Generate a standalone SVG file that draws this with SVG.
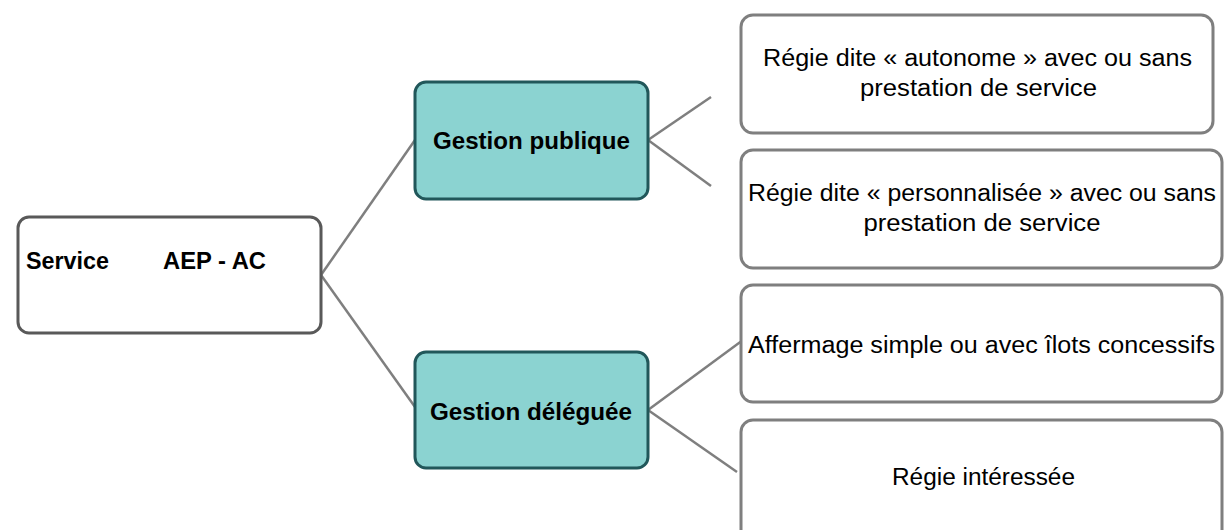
<svg xmlns="http://www.w3.org/2000/svg" width="1231" height="530" viewBox="0 0 1231 530">
<style>
.bg{fill:#ffffff}
.plain{fill:#ffffff;stroke:#7f7f7f;stroke-width:3}
.root{fill:#ffffff;stroke:#595959;stroke-width:3}
.teal{fill:#8bd3d1;stroke:#21575a;stroke-width:3}
.conn{stroke:#7f7f7f;stroke-width:2.5;fill:none}
text{font-family:"Liberation Sans",Arial,sans-serif;fill:#000000}
.b{font-weight:bold;font-size:23px}
.r{font-size:23.5px;text-anchor:middle}
.bm{font-weight:bold;font-size:23px;text-anchor:middle}
</style>
<rect class="bg" x="0" y="0" width="1231" height="530"/>
<g id="connectors">
<line class="conn" x1="321" y1="275" x2="415" y2="140"/>
<line class="conn" x1="321" y1="275" x2="415" y2="407"/>
<line class="conn" x1="648" y1="140" x2="711" y2="97"/>
<line class="conn" x1="648" y1="140" x2="711" y2="186"/>
<line class="conn" x1="648" y1="410" x2="743" y2="340"/>
<line class="conn" x1="648" y1="410" x2="737" y2="472"/>
</g>
<g id="service">
<rect class="root" x="18" y="217" width="303" height="116" rx="11"/>
<text class="b" x="26" y="269" textLength="83" lengthAdjust="spacingAndGlyphs">Service</text>
<text class="b" x="163" y="269" textLength="103" lengthAdjust="spacingAndGlyphs">AEP - AC</text>
</g>
<g id="gestion-publique">
<rect class="teal" x="415" y="82" width="233" height="117" rx="11"/>
<text class="bm" x="531.5" y="149" textLength="197" lengthAdjust="spacingAndGlyphs">Gestion publique</text>
</g>
<g id="gestion-deleguee">
<rect class="teal" x="415" y="352" width="233" height="116" rx="11"/>
<text class="bm" x="531" y="420" textLength="202" lengthAdjust="spacingAndGlyphs">Gestion déléguée</text>
</g>
<g id="regie-autonome">
<rect class="plain" x="741" y="15" width="472" height="118" rx="12"/>
<text class="r" x="977.5" y="66" textLength="429" lengthAdjust="spacingAndGlyphs">Régie dite « autonome » avec ou sans</text>
<text class="r" x="978.5" y="96" textLength="237" lengthAdjust="spacingAndGlyphs">prestation de service</text>
</g>
<g id="regie-personnalisee">
<rect class="plain" x="741" y="150" width="481" height="118" rx="12"/>
<text class="r" x="982" y="201" textLength="468" lengthAdjust="spacingAndGlyphs">Régie dite « personnalisée » avec ou sans</text>
<text class="r" x="982" y="231" textLength="237" lengthAdjust="spacingAndGlyphs">prestation de service</text>
</g>
<g id="affermage">
<rect class="plain" x="741" y="285" width="481" height="117" rx="12"/>
<text class="r" x="981.5" y="353" textLength="467" lengthAdjust="spacingAndGlyphs">Affermage simple ou avec îlots concessifs</text>
</g>
<g id="regie-interessee">
<rect class="plain" x="741" y="420" width="481" height="125" rx="12"/>
<text class="r" x="983.5" y="485" textLength="183" lengthAdjust="spacingAndGlyphs">Régie intéressée</text>
</g>
</svg>
